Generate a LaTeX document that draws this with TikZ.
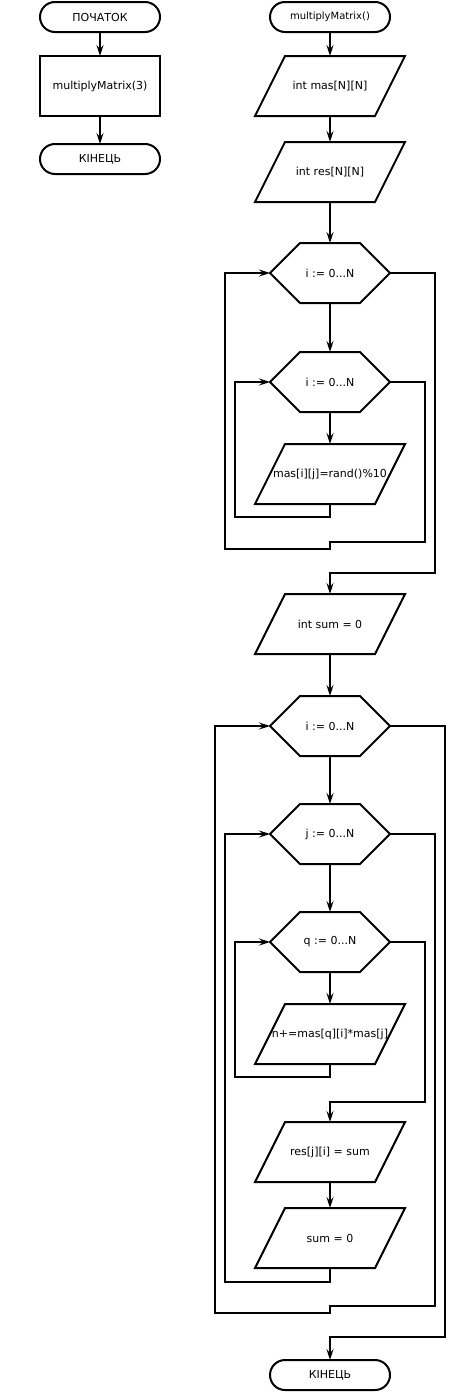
\documentclass[tikz,border=0pt]{standalone}
\usepackage{fontspec}
\setmainfont{DejaVu Sans}
\usetikzlibrary{arrows.meta}

\tikzset{
	base/.style={minimum width=120pt, minimum height=60pt, inner sep=0pt, outer sep=0pt, font=\fontsize{11}{13}\selectfont},
	term/.style={base, draw, rounded corners=15pt, minimum height=30pt},
	proc/.style={base, draw},
	io/.style={base},
	cyc/.style={base},
	flow/.style={-{Stealth[length=11pt, width=7pt, inset=4pt]}},
}

\begin{document}
	\begin{tikzpicture}[x=1pt, y=-1pt, line width=2pt]
			\path[fill=white, use as bounding box] (0,0) rectangle (460,1392);
			% main
			\node [term] at (100,17) (start) {ПОЧАТОК};
			\node [proc] at (100,86) (call) {multiplyMatrix(3)};
			\node [term] at (100,159) (stop) {КІНЕЦЬ};
			% function
			\node [term, font=\fontsize{10}{12}\selectfont] at (330,17) (fbeg) {multiplyMatrix()};
			\node [io] at (330,86) (mas) {int mas[N][N]};
			\node [io] at (330,172) (res) {int res[N][N]};
			\node [cyc] at (330,273) (lpi) {i := 0...N};
			\node [cyc] at (330,382) (lpj) {i := 0...N};
			\node [io] at (330,474) (fill) {mas[i][j]=rand()\%10};
			\node [io] at (330,624) (sum) {int sum = 0};
			\node [cyc] at (330,726) (mi) {i := 0...N};
			\node [cyc] at (330,834) (mj) {j := 0...N};
			\node [cyc] at (330,942) (mq) {q := 0...N};
			\node [io] at (330,1034) (acc) {n+=mas[q][i]*mas[j]};
			\node [io] at (330,1152) (store) {res[j][i] = sum};
			\node [io] at (330,1238) (zero) {sum = 0};
			\node [term] at (330,1375) (fend) {КІНЕЦЬ};
			
			\foreach \p in {mas,res,fill,sum,acc,store,zero}
				\draw ([xshift=15pt]\p.north west) -- ([xshift=15pt]\p.north east) -- ([xshift=-15pt]\p.south east) -- ([xshift=-15pt]\p.south west) -- cycle;
			\foreach \h in {lpi,lpj,mi,mj,mq}
				\draw ([xshift=30pt]\h.north west) -- ([xshift=-30pt]\h.north east) -- (\h.east) -- ([xshift=-30pt]\h.south east) -- ([xshift=30pt]\h.south west) -- (\h.west) -- cycle;
			
			\draw [flow] (start) -- (call);
			\draw [flow] (call) -- (stop);
			\draw [flow] (fbeg) -- (mas);
			\draw [flow] (mas) -- (res);
			\draw [flow] (res) -- (lpi.north);
			\draw [flow] (lpi.south) -- (lpj.north);
			\draw [flow] (lpj.south) -- (fill);
			\draw [flow] (fill.south) -- (330,517) -- (235,517) |- (lpj.west);
			\draw [flow] (lpj.east) -- (425,382) -- (425,542) -- (330,542) -- (330,549) -- (225,549) |- (lpi.west);
			\draw [flow] (lpi.east) -- (435,273) -- (435,573) -- (330,573) -- (sum.north);
			\draw [flow] (sum) -- (mi.north);
			\draw [flow] (mi.south) -- (mj.north);
			\draw [flow] (mj.south) -- (mq.north);
			\draw [flow] (mq.south) -- (acc);
			\draw [flow] (acc.south) -- (330,1077) -- (235,1077) |- (mq.west);
			\draw [flow] (mq.east) -- (425,942) -- (425,1102) -- (330,1102) -- (store.north);
			\draw [flow] (store) -- (zero);
			\draw [flow] (zero.south) -- (330,1282) -- (225,1282) |- (mj.west);
			\draw [flow] (mj.east) -- (435,834) -- (435,1306) -- (330,1306) -- (330,1313) -- (215,1313) |- (mi.west);
			\draw [flow] (mi.east) -- (445,726) -- (445,1337) -- (330,1337) -- (fend.north);
			
	\end{tikzpicture}
\end{document}
